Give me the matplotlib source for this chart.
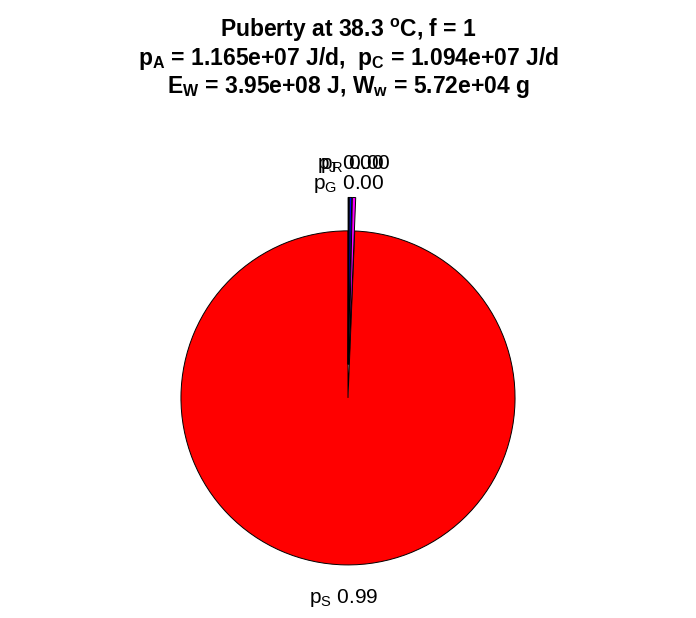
import matplotlib
matplotlib.use("Agg")
import matplotlib.pyplot as plt

plt.rcParams['font.family'] = ['Liberation Sans', 'DejaVu Sans']
plt.rcParams['mathtext.fontset'] = 'custom'
plt.rcParams['mathtext.rm'] = 'Liberation Sans'
plt.rcParams['mathtext.it'] = 'Liberation Sans:italic'
plt.rcParams['mathtext.bf'] = 'Liberation Sans:bold'

# fluxes as fractions of p_A
names = ['S', 'R', 'J', 'G']
fracs = [0.9936, 0.0032, 0.0024, 0.0008]
colors = ['#ff0000', '#ff00ff', '#0000ff', '#000000']
explode = [0.0, 0.2, 0.2, 0.2]

labels = [r'$\mathrm{p_{%s}}$ %.2f' % (n, f) for n, f in zip(names, fracs)]

fig = plt.figure(figsize=(6.96, 6.18), dpi=100)
ax = fig.add_axes([0.14, 0.0047, 0.72, 0.757])

wedges, texts = ax.pie(fracs, labels=labels, colors=colors, explode=explode,
                       startangle=90, counterclock=True, labeldistance=1.2,
                       wedgeprops={'edgecolor': 'black', 'linewidth': 0.7},
                       textprops={'fontsize': 15})
for t in texts:
    t.set_ha('center')
# p_G label sits a bit lower in the original
x, y = texts[3].get_position()
texts[3].set_position((x, y - 0.12))

ax.set_xlim(-1.5, 1.5)
ax.set_ylim(-1.3, 1.5)
ax.set_aspect('equal')
ax.axis('off')

fig.text(0.5, 0.95, r'Puberty at 38.3 $^{\mathbf{o}}$C, f = 1',
         ha='center', va='center', fontsize=16.5, fontweight='bold')
fig.text(0.5, 0.905, r'$\mathbf{p_A}$ = 1.165e+07 J/d,  $\mathbf{p_C}$ = 1.094e+07 J/d',
         ha='center', va='center', fontsize=16.5, fontweight='bold')
fig.text(0.5, 0.86, r'$\mathbf{E_W}$ = 3.95e+08 J, $\mathbf{W_w}$ = 5.72e+04 g',
         ha='center', va='center', fontsize=16.5, fontweight='bold')

fig.savefig('out.png', dpi=100)
